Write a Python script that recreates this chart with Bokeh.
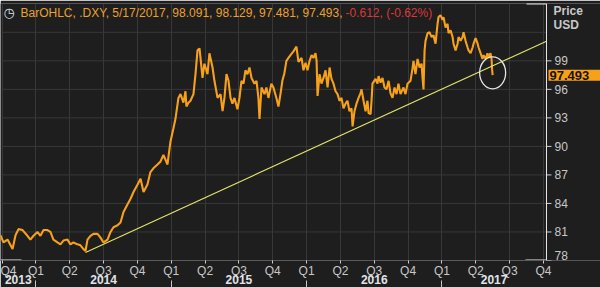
import math
from bokeh.plotting import figure
from bokeh.models import Range1d, LinearAxis, FixedTicker, Label, Span
from bokeh.core.properties import value
from bokeh.embed import file_html
from bokeh.resources import INLINE

# ---- data (decimal year, DXY close) ----
dates_yr = [
    2013.738, 2013.760, 2013.790, 2013.827, 2013.849, 2013.871, 2013.901, 2013.937, 2013.959, 2013.982,
    2014.011, 2014.033, 2014.056, 2014.085, 2014.107, 2014.129, 2014.159, 2014.181, 2014.203, 2014.233,
    2014.255, 2014.277, 2014.307, 2014.329, 2014.351, 2014.366, 2014.381, 2014.403, 2014.425, 2014.455,
    2014.477, 2014.499, 2014.529, 2014.551, 2014.573, 2014.603, 2014.625, 2014.647, 2014.676, 2014.699,
    2014.721, 2014.751, 2014.773, 2014.795, 2014.824, 2014.846, 2014.868, 2014.898, 2014.920, 2014.942,
    2014.972, 2014.994, 2015.016, 2015.031, 2015.053, 2015.068, 2015.090, 2015.105, 2015.112, 2015.127,
    2015.142, 2015.164, 2015.179, 2015.194, 2015.209, 2015.216, 2015.231, 2015.245, 2015.268, 2015.282,
    2015.305, 2015.319, 2015.342, 2015.364, 2015.379, 2015.393, 2015.408, 2015.423, 2015.438, 2015.452,
    2015.467, 2015.489, 2015.504, 2015.519, 2015.534, 2015.548, 2015.563, 2015.578, 2015.593, 2015.615,
    2015.630, 2015.644, 2015.652, 2015.667, 2015.689, 2015.703, 2015.718, 2015.740, 2015.755, 2015.777,
    2015.792, 2015.807, 2015.821, 2015.836, 2015.851, 2015.866, 2015.881, 2015.903, 2015.925, 2015.940,
    2015.963, 2015.977, 2015.992, 2016.007, 2016.022, 2016.037, 2016.051, 2016.066, 2016.074, 2016.081,
    2016.096, 2016.110, 2016.125, 2016.140, 2016.155, 2016.170, 2016.184, 2016.199, 2016.214, 2016.229,
    2016.243, 2016.258, 2016.273, 2016.288, 2016.302, 2016.317, 2016.332, 2016.340, 2016.354, 2016.369,
    2016.384, 2016.399, 2016.406, 2016.421, 2016.436, 2016.450, 2016.458, 2016.473, 2016.480, 2016.487,
    2016.510, 2016.524, 2016.532, 2016.547, 2016.561, 2016.576, 2016.591, 2016.606, 2016.620, 2016.635,
    2016.650, 2016.665, 2016.679, 2016.694, 2016.716, 2016.731, 2016.746, 2016.768, 2016.783, 2016.790,
    2016.805, 2016.820, 2016.835, 2016.850, 2016.857, 2016.864, 2016.872, 2016.879, 2016.894, 2016.909,
    2016.924, 2016.938, 2016.953, 2016.968, 2016.975, 2016.990, 2017.005, 2017.012, 2017.027, 2017.042,
    2017.049, 2017.064, 2017.079, 2017.086, 2017.101, 2017.116, 2017.123, 2017.138, 2017.153, 2017.160,
    2017.175, 2017.190, 2017.197, 2017.212, 2017.227, 2017.234, 2017.249, 2017.264, 2017.271, 2017.286,
    2017.300, 2017.308, 2017.323, 2017.337, 2017.345, 2017.359, 2017.367, 2017.371, 2017.375,
]
dxy_close = [
    80.65, 79.9, 80.2, 79.2, 80.65, 81.3, 81.2, 80.6, 80.2, 80.6,
    81.0, 80.6, 81.2, 81.2, 81.0, 80.2, 79.9, 79.7, 80.1, 80.2,
    79.7, 79.9, 79.7, 79.6, 79.2, 79.0, 80.2, 80.6, 80.8, 80.8,
    80.4, 79.9, 80.2, 81.0, 81.5, 81.7, 82.0, 83.1, 83.9, 84.5,
    85.2, 86.0, 86.6, 85.2, 86.0, 87.3, 87.7, 88.1, 88.4, 89.1,
    88.1, 90.5, 91.9, 92.9, 95.1, 95.5, 94.6, 95.8, 94.2, 94.6,
    94.8, 95.5, 97.6, 100.1, 100.3, 99.3, 97.2, 98.7, 97.6, 99.8,
    98.3, 96.9, 95.1, 95.5, 93.7, 95.1, 97.6, 96.9, 95.1, 94.5,
    95.1, 93.9, 95.1, 96.9, 96.6, 98.0, 97.6, 98.3, 97.2, 96.6,
    96.9, 95.1, 92.9, 96.2, 95.5, 96.2, 95.1, 96.6, 96.2, 95.1,
    94.2, 95.5, 96.9, 97.7, 99.0, 99.3, 99.6, 100.0, 100.5, 98.9,
    99.3, 98.0, 98.8, 98.0, 99.0, 99.6, 99.3, 99.8, 99.0, 95.3,
    97.6, 96.6, 97.2, 98.0, 96.2, 98.3, 97.1, 96.6, 95.8, 95.5,
    94.8, 95.1, 94.0, 94.5, 94.8, 93.7, 94.0, 92.1, 93.7, 94.5,
    95.1, 95.6, 96.0, 94.8, 93.7, 94.8, 93.5, 93.4, 94.8, 96.6,
    97.1, 96.6, 97.4, 96.7, 97.2, 96.2, 96.0, 96.9, 95.6, 95.1,
    96.2, 95.5, 96.6, 95.5, 96.2, 95.5, 96.6, 96.9, 98.2, 99.0,
    97.6, 99.2, 98.3, 98.7, 97.2, 96.0, 100.1, 101.1, 101.9, 102.0,
    101.5, 101.7, 100.8, 102.9, 103.6, 103.8, 103.3, 103.6, 102.5, 102.9,
    101.9, 102.2, 101.5, 100.8, 100.1, 100.8, 101.5, 101.1, 101.5, 102.0,
    101.1, 100.4, 100.1, 99.8, 100.4, 100.8, 101.4, 100.8, 100.4, 99.8,
    99.2, 99.6, 99.2, 99.8, 99.3, 99.8, 99.2, 98.1, 97.493,
]

# trend line drawn on the chart (from the May-2014 low, extended right)
trend_x = [2014.366, 2017.773]
trend_y = [78.85, 101.07]

quarter_ticks = [2013.75, 2014.0, 2014.25, 2014.5, 2014.75, 2015.0, 2015.25, 2015.5, 2015.75,
                 2016.0, 2016.25, 2016.5, 2016.75, 2017.0, 2017.25, 2017.5, 2017.75]
quarter_labels = ["Q4", "Q1", "Q2", "Q3", "Q4", "Q1", "Q2", "Q3", "Q4",
                  "Q1", "Q2", "Q3", "Q4", "Q1", "Q2", "Q3", "Q4"]
year_ticks = [2013.869, 2014.5, 2015.5, 2016.5, 2017.386]
year_labels = ["2013", "2014", "2015", "2016", "2017"]
year_bounds = [2014.0, 2015.0, 2016.0, 2017.0]
price_ticks = [78, 81, 84, 87, 90, 93, 96, 99]
price_labels = ["78", "81", "84", "87", "90", "93", "96", "99"]
price_grid = [78, 81, 84, 87, 90, 93, 96, 99, 102]

header_main = "BarOHLC, .DXY, 5/17/2017, 98.091, 98.129, 97.481, 97.493,"
header_change = "-0.612, (-0.62%)"
last_label = "97.493"

X_LO, X_HI = 2013.738, 2017.773          # plotted time span (plot area)
X_END = X_HI + 54 / 135.3                 # room for the price scale on the right
Y_LO, Y_HI = 78.0, 105.03

BG = "#1e1e1e"
GRID = "#383838"
ORANGE = "#f7a11a"
FONT = "Liberation Sans"
LBL = "#c8c8c8"
FRAME = "#e8e8e8"

p = figure(width=600, height=287, output_backend="svg", toolbar_location=None,
           x_range=Range1d(X_LO, X_END), y_range=Range1d(Y_LO, Y_HI),
           x_axis_location="below", y_axis_location=None,
           background_fill_color=BG, border_fill_color=BG, outline_line_color=None,
           min_border_left=0, min_border_right=0, min_border_top=3, min_border_bottom=27)

# grids
p.xgrid.ticker = FixedTicker(ticks=quarter_ticks)
p.xgrid.grid_line_color = GRID
p.ygrid.visible = False
p.segment(x0=[X_LO] * len(price_grid), x1=[X_HI] * len(price_grid),
          y0=price_grid, y1=price_grid, line_color=GRID, line_width=1)

# quarter axis
xa = p.xaxis[0]
xa.ticker = FixedTicker(ticks=quarter_ticks, minor_ticks=[])
xa.bounds = (X_LO, X_HI)
xa.major_label_overrides = {t: l for t, l in zip(quarter_ticks, quarter_labels)}
xa.axis_line_color = "#5a5a5a"
xa.major_tick_line_color = "#d0d0d0"
xa.major_tick_out = 3
xa.major_tick_in = 0
xa.minor_tick_line_color = None
xa.major_label_standoff = 0
xa.major_label_text_color = LBL
xa.major_label_text_font = FONT
xa.major_label_text_font_size = "12px"

# year axis
ya2 = LinearAxis(ticker=FixedTicker(ticks=year_ticks, minor_ticks=year_bounds),
                 major_label_overrides={t: l for t, l in zip(year_ticks, year_labels)},
                 axis_line_color=None, major_tick_line_color=None,
                 minor_tick_line_color="#c8c8c8", minor_tick_out=10, minor_tick_in=0,
                 major_tick_out=0, major_tick_in=0, major_label_standoff=-16,
                 major_label_text_color="#e0e4ea", major_label_text_font=FONT,
                 major_label_text_font_size="12px", major_label_text_font_style="bold")
p.add_layout(ya2, "below")

# price scale drawn at the right edge of the plot area
p.add_layout(Span(location=X_HI, dimension="height", line_color=FRAME, line_width=1))
p.ray(x=[X_HI] * len(price_ticks), y=price_ticks, length=5, length_units="screen",
      angle=0, line_color="#d0d0d0", line_width=1)
up_t = [t for t in price_ticks if t > Y_LO]
up_l = [l for t, l in zip(price_ticks, price_labels) if t > Y_LO]
lo_t = [t for t in price_ticks if t <= Y_LO]
lo_l = [l for t, l in zip(price_ticks, price_labels) if t <= Y_LO]
p.text(x=[X_HI] * len(up_t), y=up_t, text=up_l, x_offset=8, text_baseline="middle",
       text_font=value(FONT), text_font_size=value("12px"), text_color=LBL)
p.text(x=[X_HI] * len(lo_t), y=lo_t, text=lo_l, x_offset=8, y_offset=-1, text_baseline="bottom",
       text_font=value(FONT), text_font_size=value("12px"), text_color=LBL)

# white corner brackets of the plot area
p.ray(x=[X_LO, X_HI, X_HI], y=[Y_LO, Y_LO, Y_HI], length=[21, 21, 20], length_units="screen",
      angle=[0, math.pi, math.pi], line_color=FRAME, line_width=2)

# series
p.line(dates_yr, dxy_close, line_color=ORANGE, line_width=2.1)
p.line(trend_x, trend_y, line_color="#e2e26a", line_width=1.1)
p.ellipse(x=[dates_yr[-1]], y=[dxy_close[-1] + 0.25], width=26, height=32,
          width_units="screen", height_units="screen",
          fill_color=None, line_color="#e6e6e6", line_width=1.3)

# header
p.add_layout(Label(x=X_LO, y=Y_HI, x_offset=3, y_offset=-9, text="\u25f7",
                   text_color="#dbe3ef", text_font="DejaVu Sans", text_font_size="13px",
                   text_baseline="middle"))
p.add_layout(Label(x=X_LO, y=Y_HI, x_offset=20, y_offset=-9, text=header_main,
                   text_color="#eca030", text_font=FONT, text_font_size="12px",
                   text_baseline="middle"))
p.add_layout(Label(x=X_LO, y=Y_HI, x_offset=345, y_offset=-9, text=header_change,
                   text_color="#d83a3a", text_font=FONT, text_font_size="12px",
                   text_baseline="middle"))

# right-side captions
p.add_layout(Label(x=X_HI, y=Y_HI, x_offset=7, y_offset=-7, text="Price",
                   text_color=LBL, text_font=FONT, text_font_size="12px",
                   text_font_style="bold", text_baseline="middle"))
p.add_layout(Label(x=X_HI, y=Y_HI, x_offset=7, y_offset=-21, text="USD",
                   text_color=LBL, text_font=FONT, text_font_size="12px",
                   text_font_style="bold", text_baseline="middle"))
p.add_layout(Label(x=X_HI, y=dxy_close[-1], x_offset=2, text=last_label,
                   text_color="#1a1208", text_font=FONT, text_font_size="13px",
                   text_font_style="bold", text_baseline="middle",
                   background_fill_color=ORANGE, padding=(1, 14, 1, 1)))

open("out.html", "w").write(file_html(p, INLINE))
